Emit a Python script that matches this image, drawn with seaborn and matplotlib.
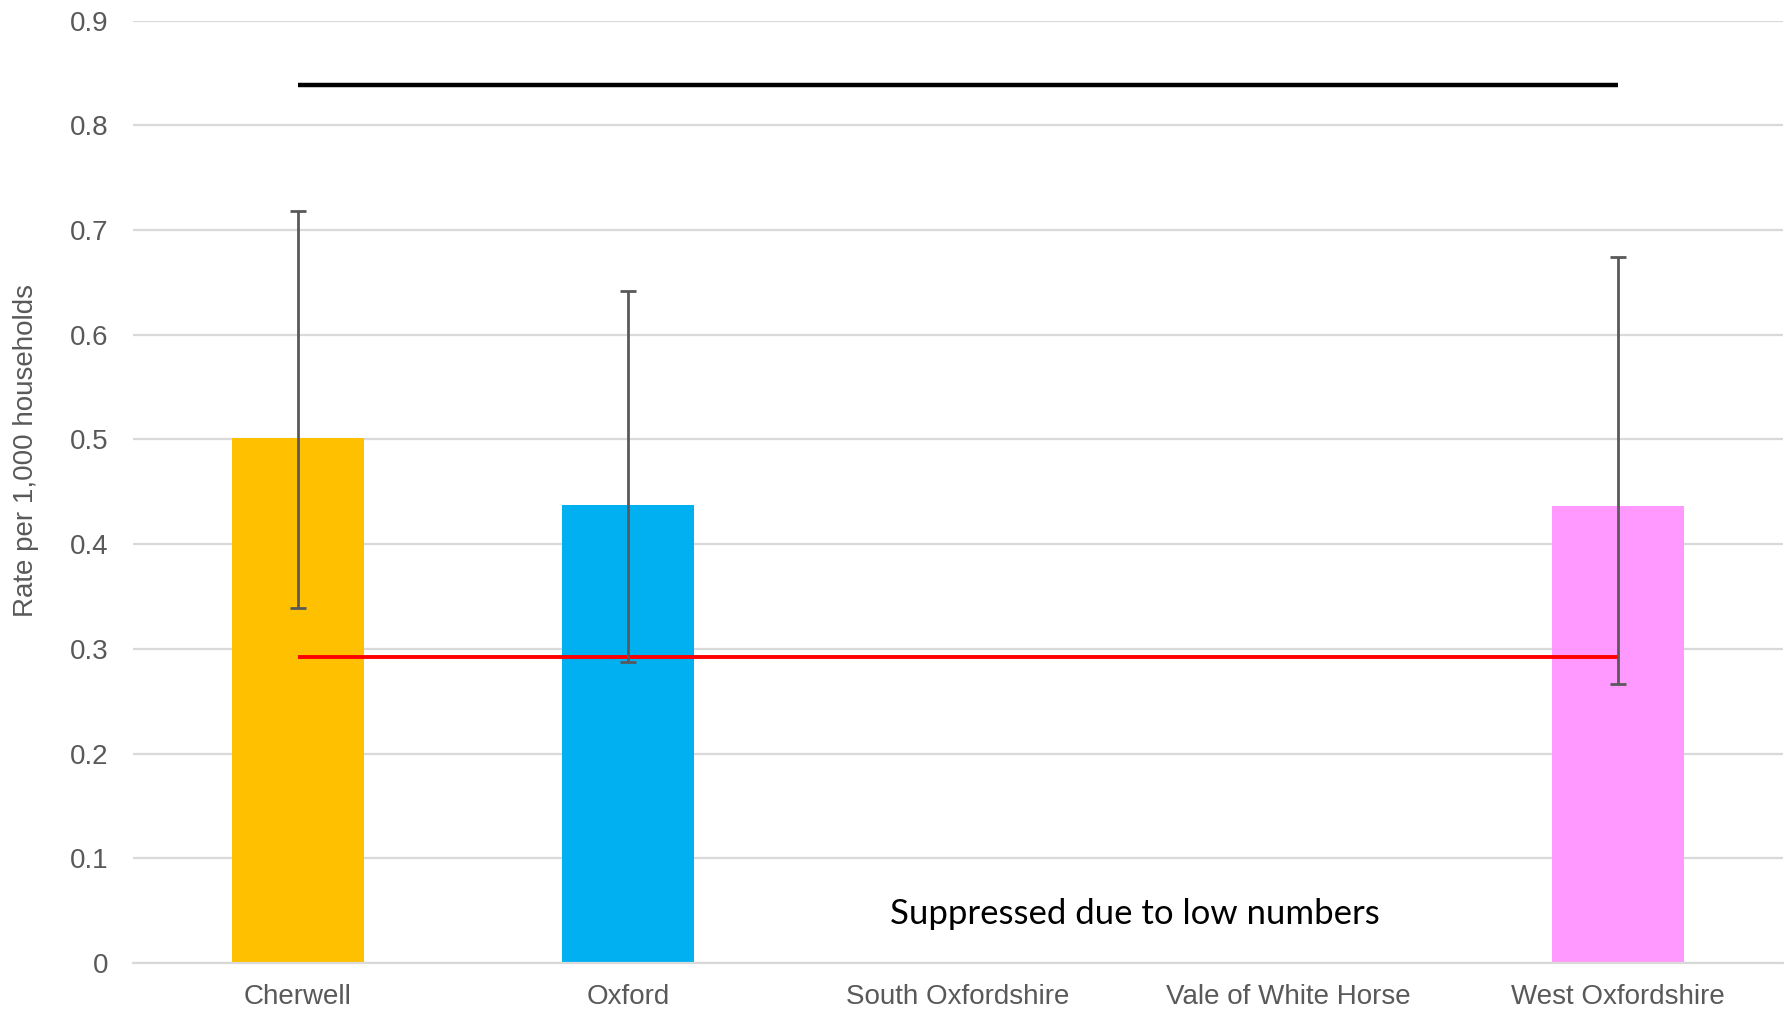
import numpy as np
import pandas as pd
import matplotlib
matplotlib.use("Agg")
import matplotlib.pyplot as plt
import seaborn as sns

categories = ["Cherwell", "Oxford", "South Oxfordshire", "Vale of White Horse", "West Oxfordshire"]
rates = [0.501, 0.437, np.nan, np.nan, 0.436]
ci_lower = [0.339, 0.287, np.nan, np.nan, 0.266]
ci_upper = [0.718, 0.642, np.nan, np.nan, 0.674]
bar_colors = ["#FFC000", "#00B0F0", "#A5A5A5", "#70AD47", "#FF99FF"]
black_line_value = 0.839
red_line_value = 0.292
y_ticks = [0, 0.1, 0.2, 0.3, 0.4, 0.5, 0.6, 0.7, 0.8, 0.9]
y_tick_labels = ["0", "0.1", "0.2", "0.3", "0.4", "0.5", "0.6", "0.7", "0.8", "0.9"]
note_text = "Suppressed due to low numbers"

sns.set_theme(style="white")
plt.rcParams['font.family'] = ['Liberation Sans', 'DejaVu Sans']

df = pd.DataFrame({"area": categories, "rate": rates})

fig = plt.figure(figsize=(17.88, 10.09), dpi=100)
ax = fig.add_axes([0.0744, 0.0456, 0.9228, 0.9339])

sns.barplot(data=df, x="area", y="rate", hue="area", palette=bar_colors,
            order=categories, hue_order=categories, width=0.4, legend=False,
            saturation=1, ax=ax, zorder=2, linewidth=0)

x_idx = np.arange(len(categories))
valid = ~np.isnan(np.array(rates))
first, last = x_idx[valid][0], x_idx[valid][-1]

ax.plot([first, last], [black_line_value] * 2, color="black", lw=3.2, zorder=3,
        solid_capstyle="butt")
ax.plot([first, last], [red_line_value] * 2, color="#FF0000", lw=2.8, zorder=3,
        solid_capstyle="butt")

r = np.array(rates)
lo = np.array(ci_lower)
hi = np.array(ci_upper)
ax.errorbar(x_idx[valid], r[valid], yerr=[r[valid] - lo[valid], hi[valid] - r[valid]],
            fmt="none", ecolor="#595959", elinewidth=2, capsize=6, capthick=2, zorder=4)

ax.text(2.535, 0.047, note_text, ha="center", va="center", fontsize=25,
        family=["Lato", "DejaVu Sans"], color="black")

ax.set_ylim(0, 0.9)
ax.set_xlim(-0.5, len(categories) - 0.5)
ax.set_yticks(y_ticks)
ax.set_yticklabels(y_tick_labels)
ax.yaxis.grid(True, color="#D9D9D9", lw=1.6, zorder=0)
ax.set_axisbelow(True)
for s in ["top", "right", "left"]:
    ax.spines[s].set_visible(False)
ax.spines["bottom"].set_color("#D9D9D9")
ax.spines["bottom"].set_linewidth(1.6)
ax.tick_params(axis="both", length=0, labelsize=20, labelcolor="#595959")
ax.tick_params(axis="y", pad=18)
ax.tick_params(axis="x", pad=15)
ax.set_xlabel("")
ax.set_ylabel("Rate per 1,000 households", fontsize=20, color="#595959")
ax.yaxis.set_label_coords(-0.057, 0.544)

fig.savefig("out.png", dpi=100)
